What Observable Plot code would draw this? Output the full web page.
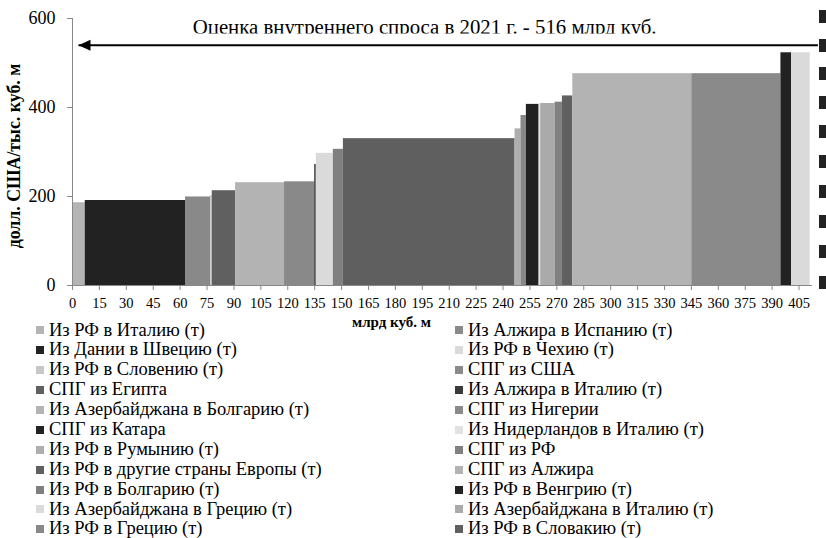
<!DOCTYPE html>
<html><head><meta charset="utf-8">
<script src="https://cdn.jsdelivr.net/npm/d3@7"></script>
<script src="https://cdn.jsdelivr.net/npm/@observablehq/plot@0.6"></script>
<style>
body{margin:0;background:#fff;font-family:"Liberation Serif","Times New Roman",serif;}
#wrap{position:relative;width:826px;height:538px;overflow:hidden;}
#legend{display:grid;grid-template-columns:419px 370px;grid-template-rows:repeat(11,19.9px);grid-auto-flow:column;padding-left:36px;margin-top:-15.5px;font-size:18.5px;color:#000;}
#legend div{display:flex;align-items:center;white-space:nowrap;line-height:19.9px;}
#legend span.sw{display:inline-block;width:8px;height:8px;margin-right:5px;}
.cut{position:absolute;left:819px;width:8px;height:13px;background:#222;}
</style></head>
<body><div id="wrap"></div>
<script>
// Legend (series) names, in legend order (left column, then right column)
const seriesNames = [
  "Из РФ в Италию (т)","Из Дании в Швецию (т)","Из РФ в Словению (т)","СПГ из Египта",
  "Из Азербайджана в Болгарию (т)","СПГ из Катара","Из РФ в Румынию (т)","Из РФ в другие страны Европы (т)",
  "Из РФ в Болгарию (т)","Из Азербайджана в Грецию (т)","Из РФ в Грецию (т)",
  "Из Алжира в Испанию (т)","Из РФ в Чехию (т)","СПГ из США","Из Алжира в Италию (т)",
  "СПГ из Нигерии","Из Нидерландов в Италию (т)","СПГ из РФ","СПГ из Алжира",
  "Из РФ в Венгрию (т)","Из Азербайджана в Италию (т)","Из РФ в Словакию (т)"
];
const seriesFill = [
  "#b4b4b4","#222222","#c8c8c8","#606060",
  "#b3b3b3","#222222","#aeaeae","#5f5f5f",
  "#7f7f7f","#dadada","#888888",
  "#898989","#dadada","#8a8a8a","#3a3a3a",
  "#898989","#e2e2e2","#808080","#b3b3b3",
  "#222222","#aaaaaa","#606060"
];
// Bars of the supply curve, in order along the x axis
const barSeries = [
  "Из РФ в Италию (т)","Из Дании в Швецию (т)","Из Алжира в Испанию (т)","Из РФ в Словению (т)",
  "СПГ из Египта","Из Азербайджана в Болгарию (т)","СПГ из Нигерии","Из Алжира в Италию (т)",
  "Из Азербайджана в Грецию (т)","Из РФ в Болгарию (т)","Из РФ в другие страны Европы (т)","Из РФ в Румынию (т)",
  "Из РФ в Грецию (т)","СПГ из Катара","Из Нидерландов в Италию (т)","Из Азербайджана в Италию (т)",
  "СПГ из РФ","Из РФ в Словакию (т)","СПГ из Алжира","СПГ из США","Из РФ в Венгрию (т)","Из РФ в Чехию (т)"
];
const barVolume = [7.1,55.9,14.0,0.9,13.0,27.3,16.8,0.9,9.5,5.6,95.7,3.3,3.0,7.1,0.9,8.0,4.1,5.8,66.3,49.7,5.9,10.4];
const barCost   = [186,191,199,202,213,231,233,272,297,306,330,352,382,407,408,409,412,426,476,476,523,523];
const xTicks = [0,15,30,45,60,75,90,105,120,135,150,165,180,195,210,225,240,255,270,285,300,315,330,345,360,375,390,405];
const yTicks = [0,200,400,600];
const demandNote = [{x: 196.3, y: 565, text: "Оценка внутреннего спроса в 2021 г. - 516 млрд куб."}];
const demandArrow = [{x1: 415.5, x2: 3.35, y: 540}];
const xLabel = "млрд куб. м";
const yLabel = "долл. США/тыс. куб. м";

const ends = d3.cumsum(barVolume);
const bars = barSeries.map((s, i) => ({series: s, x1: ends[i] - barVolume[i], x2: ends[i], cost: barCost[i]}));

const leftTri = {draw(ctx){ ctx.moveTo(0,0); ctx.lineTo(12,-5.5); ctx.lineTo(12,5.5); ctx.closePath(); }};

const chart = Plot.plot({
  width: 826, height: 336,
  marginLeft: 72, marginRight: 14, marginTop: 18, marginBottom: 51,
  style: {fontFamily: "Liberation Serif", background: "white", color: "black", overflow: "visible"},
  x: {domain: [0, 412.5]},
  y: {domain: [0, 600]},
  color: {domain: seriesNames, range: seriesFill},
  marks: [
    Plot.rectY(bars, {x1: "x1", x2: "x2", y: "cost", fill: "series"}),
    Plot.ruleX([0], {stroke: "#888"}),
    Plot.ruleY([0], {stroke: "#888"}),
    Plot.axisX({ticks: xTicks, tickSize: 5, tickPadding: 7, fontSize: 14.5, label: null, stroke: "#888", fill: "black"}),
    Plot.axisY({ticks: yTicks, tickSize: 5, tickPadding: 12, fontSize: 18, label: null, stroke: "#888", fill: "black"}),
    Plot.link(demandArrow, {x1: "x1", x2: "x2", y1: "y", y2: "y", stroke: "black", strokeWidth: 2}),
    Plot.dot(demandArrow, {x: "x2", y: "y", symbol: leftTri, fill: "black", stroke: "none", r: 6}),
    Plot.text(demandNote, {x: "x", y: "y", text: "text", fontSize: 20.8, lineAnchor: "bottom", textAnchor: "middle", fill: "black"}),
    Plot.text([xLabel], {frameAnchor: "bottom", dx: -51, dy: 41, fontSize: 15, fontWeight: "bold", fill: "black"}),
    Plot.text([yLabel], {frameAnchor: "left", textAnchor: "middle", rotate: -90, dx: -58, dy: 4, fontSize: 17.8, fontWeight: "bold", fill: "black"})
  ]
});

// clip the note text at its bottom like in the original
const ns = "http://www.w3.org/2000/svg";
const defs = document.createElementNS(ns, "defs");
const cp = document.createElementNS(ns, "clipPath"); cp.setAttribute("id", "noteClip");
const cr = document.createElementNS(ns, "rect");
cr.setAttribute("x", 0); cr.setAttribute("y", 0); cr.setAttribute("width", 826); cr.setAttribute("height", 33);
cp.appendChild(cr); defs.appendChild(cp); chart.insertBefore(defs, chart.firstChild);
chart.querySelectorAll("text").forEach(t => {
  if (t.textContent.startsWith("Оценка")) t.parentNode.setAttribute("clip-path", "url(#noteClip)");
});

const wrap = document.getElementById("wrap");
wrap.appendChild(chart);

const legend = document.createElement("div");
legend.id = "legend";
seriesNames.forEach((n, i) => {
  const d = document.createElement("div");
  const sw = document.createElement("span"); sw.className = "sw"; sw.style.background = seriesFill[i];
  d.appendChild(sw); d.appendChild(document.createTextNode(n));
  legend.appendChild(d);
});
wrap.appendChild(legend);

// swatches of a further legend column cut off at the right edge
const cutTops = [10, 39, 67, 96, 125, 155, 185, 215, 245, 276];
cutTops.forEach(t => { const c = document.createElement("div"); c.className = "cut"; c.style.top = t + "px"; wrap.appendChild(c); });
</script></body></html>
